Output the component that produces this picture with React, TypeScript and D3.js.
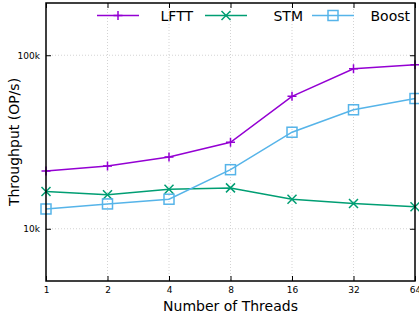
import { useEffect, useRef } from "react";
import * as d3 from "d3";

const threads = [1, 2, 4, 8, 16, 32, 64];
const lfttValues = [21500, 23000, 25900, 31500, 58000, 83500, 88000];
const stmValues = [16400, 15700, 16900, 17200, 14800, 14000, 13400];
const boostValues = [13000, 13900, 14800, 21900, 36000, 48500, 56300];
const yTicks = [10000, 100000];
const yTickLabels = ["10k", "100k"];

type Marker = "plus" | "cross" | "square";

const series: { name: string; values: number[]; color: string; marker: Marker }[] = [
  { name: "LFTT", values: lfttValues, color: "#9400d3", marker: "plus" },
  { name: "STM", values: stmValues, color: "#009e73", marker: "cross" },
  { name: "Boost", values: boostValues, color: "#56b4e9", marker: "square" },
];

const W = 419;
const H = 320;
const FONT = "'DejaVu Sans', sans-serif";

function drawMarker(
  g: d3.Selection<SVGGElement, unknown, null, undefined>,
  kind: Marker,
  color: string,
) {
  const s = 4.5;
  if (kind === "plus") {
    g.append("path")
      .attr("d", `M${-s},0H${s}M0,${-s}V${s}`)
      .attr("stroke", color)
      .attr("stroke-width", 1.5)
      .attr("fill", "none");
  } else if (kind === "cross") {
    g.append("path")
      .attr("d", `M${-s},${-s}L${s},${s}M${-s},${s}L${s},${-s}`)
      .attr("stroke", color)
      .attr("stroke-width", 1.5)
      .attr("fill", "none");
  } else {
    g.append("rect")
      .attr("x", -5)
      .attr("y", -5)
      .attr("width", 10)
      .attr("height", 10)
      .attr("stroke", color)
      .attr("stroke-width", 1.5)
      .attr("fill", "none");
  }
}

export default function App() {
  const svgRef = useRef<SVGSVGElement>(null);

  useEffect(() => {
    if (!svgRef.current) return;
    const margin = { top: 3, right: 4, bottom: 39, left: 46 };
    const innerW = W - margin.left - margin.right;
    const innerH = H - margin.top - margin.bottom;

    const svg = d3.select(svgRef.current);
    svg.selectAll("*").remove();
    const g = svg
      .append("g")
      .attr("transform", `translate(${margin.left},${margin.top})`);

    const x = d3.scaleLog().base(2).domain([1, 64]).range([0, innerW]);
    const y = d3.scaleLog().domain([5000, 200000]).range([innerH, 0]);

    // grid
    g.append("g")
      .selectAll("line")
      .data(threads.slice(1, -1))
      .join("line")
      .attr("x1", (d) => x(d))
      .attr("x2", (d) => x(d))
      .attr("y1", 0)
      .attr("y2", innerH)
      .attr("stroke", "#c8c8c8")
      .attr("stroke-width", 0.8)
      .attr("stroke-dasharray", "1,2");
    g.append("g")
      .selectAll("line")
      .data(yTicks)
      .join("line")
      .attr("x1", 0)
      .attr("x2", innerW)
      .attr("y1", (d) => y(d))
      .attr("y2", (d) => y(d))
      .attr("stroke", "#c8c8c8")
      .attr("stroke-width", 0.8)
      .attr("stroke-dasharray", "1,2");

    // axes with inward ticks (mirrored)
    const tickStyle = (sel: d3.Selection<SVGGElement, unknown, null, undefined>) => {
      sel.select(".domain").remove();
      sel.selectAll("line").attr("stroke", "#000").attr("stroke-width", 1);
      sel.selectAll("text").style("font-family", FONT).style("font-size", "9px").attr("fill", "#000");
    };
    g.append("g")
      .attr("transform", `translate(0,${innerH})`)
      .call(
        d3.axisBottom(x).tickValues(threads).tickFormat((d) => String(d)).tickSizeInner(-5).tickPadding(6),
      )
      .call(tickStyle);
    g.append("g")
      .call(d3.axisTop(x).tickValues(threads).tickFormat(() => "").tickSizeInner(-5))
      .call(tickStyle);
    g.append("g")
      .call(
        d3
          .axisLeft(y)
          .tickValues(yTicks)
          .tickFormat((_, i) => yTickLabels[i])
          .tickSizeInner(-5)
          .tickPadding(6),
      )
      .call(tickStyle);
    g.append("g")
      .attr("transform", `translate(${innerW},0)`)
      .call(d3.axisRight(y).tickValues(yTicks).tickFormat(() => "").tickSizeInner(-5))
      .call(tickStyle);

    // series
    const line = d3
      .line<number>()
      .x((_, i) => x(threads[i]))
      .y((d) => y(d));
    series.forEach((s) => {
      g.append("path")
        .datum(s.values)
        .attr("fill", "none")
        .attr("stroke", s.color)
        .attr("stroke-width", 1.5)
        .attr("d", line);
      s.values.forEach((v, i) => {
        const mg = g.append("g").attr("transform", `translate(${x(threads[i])},${y(v)})`);
        drawMarker(mg, s.marker, s.color);
      });
    });

    // frame
    g.append("rect")
      .attr("width", innerW)
      .attr("height", innerH)
      .attr("fill", "none")
      .attr("stroke", "#000")
      .attr("stroke-width", 1.5);

    // legend: sample line then right-aligned label
    const legendLineStart = [97, 205, 312];
    const legendRight = [193, 303, 410];
    const sampleLen = 42;
    const ly = 15.5;
    series.forEach((s, i) => {
      const lx1 = legendLineStart[i];
      const lx2 = lx1 + sampleLen;
      svg
        .append("line")
        .attr("x1", lx1)
        .attr("x2", lx2)
        .attr("y1", ly)
        .attr("y2", ly)
        .attr("stroke", s.color)
        .attr("stroke-width", 1.5);
      const mg = svg.append("g").attr("transform", `translate(${(lx1 + lx2) / 2},${ly})`);
      drawMarker(mg, s.marker, s.color);
      svg
        .append("text")
        .attr("x", legendRight[i])
        .attr("y", 20.5)
        .attr("text-anchor", "end")
        .style("font-family", FONT)
        .style("font-size", "14px")
        .text(s.name);
    });

    // axis titles
    svg
      .append("text")
      .attr("x", margin.left + innerW / 2)
      .attr("y", 311)
      .attr("text-anchor", "middle")
      .style("font-family", FONT)
      .style("font-size", "14px")
      .text("Number of Threads");
    svg
      .append("text")
      .attr("transform", `translate(19,${margin.top + innerH / 2}) rotate(-90)`)
      .attr("text-anchor", "middle")
      .style("font-family", FONT)
      .style("font-size", "14px")
      .text("Throughput (OP/s)");
  }, []);

  return (
    <svg
      ref={svgRef}
      width={W}
      height={H}
      style={{ position: "absolute", left: 0, top: 0, background: "#fff" }}
    />
  );
}
